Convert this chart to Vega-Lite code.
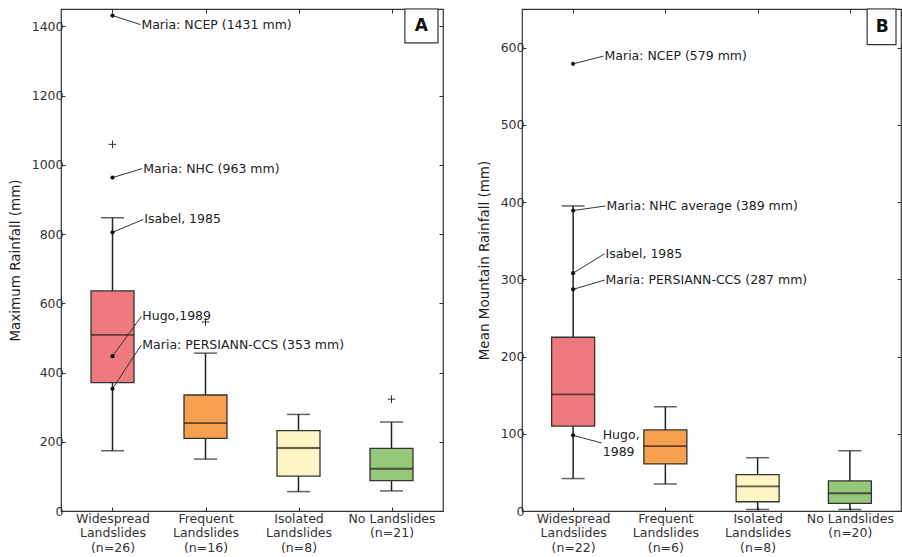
{
  "$schema": "https://vega.github.io/schema/vega-lite/v6.json",
  "padding": {"left": 7, "top": 7, "right": 0, "bottom": 0},
  "background": "white",
  "spacing": 31,
  "config": {
    "font": "DejaVu Sans",
    "view": {"stroke": "#333", "strokeWidth": 1.2},
    "axis": {"domain": false, "grid": false, "labelFont": "DejaVu Sans", "labelFontSize": 12.5, "labelColor": "#333", "titleFont": "DejaVu Sans", "titleFontSize": 13.5, "titleFontWeight": "normal", "titleColor": "#222", "tickColor": "#333", "tickSize": -4, "tickWidth": 1}
  },
  "datasets": {
    "boxA": [
      {"cat": "Widespread", "idx": 0.5, "lo": 174, "q1": 371, "med": 509, "q3": 636, "hi": 847},
      {"cat": "Frequent", "idx": 1.5, "lo": 150, "q1": 210, "med": 254, "q3": 335, "hi": 456},
      {"cat": "Isolated", "idx": 2.5, "lo": 56, "q1": 101, "med": 182, "q3": 232, "hi": 279},
      {"cat": "None", "idx": 3.5, "lo": 58, "q1": 88, "med": 122, "q3": 181, "hi": 257}
    ],
    "outA": [
      {"idx": 0.5, "value": 1059},
      {"idx": 1.5, "value": 546},
      {"idx": 3.5, "value": 323}
    ],
    "ptsA": [
      {"idx": 0.5, "value": 1431, "label": "Maria: NCEP (1431 mm)", "lx": 0.80, "ly": 1405, "ty": 1405},
      {"idx": 0.5, "value": 963, "label": "Maria: NHC (963 mm)", "lx": 0.82, "ly": 989, "ty": 989},
      {"idx": 0.5, "value": 805, "label": "Isabel, 1985", "lx": 0.83, "ly": 842, "ty": 842},
      {"idx": 0.5, "value": 447, "label": "Hugo,1989", "lx": 0.81, "ly": 562, "ty": 562},
      {"idx": 0.5, "value": 353, "label": "Maria: PERSIANN-CCS (353 mm)", "lx": 0.81, "ly": 480, "ty": 480}
    ],
    "boxB": [
      {"cat": "Widespread", "idx": 0.5, "lo": 42, "q1": 110, "med": 151, "q3": 225, "hi": 395},
      {"cat": "Frequent", "idx": 1.5, "lo": 35, "q1": 61, "med": 84, "q3": 105, "hi": 135},
      {"cat": "Isolated", "idx": 2.5, "lo": 2, "q1": 12, "med": 32, "q3": 47, "hi": 69},
      {"cat": "None", "idx": 3.5, "lo": 2, "q1": 10, "med": 23, "q3": 39, "hi": 78}
    ],
    "ptsB": [
      {"idx": 0.5, "value": 579, "label": "Maria: NCEP (579 mm)", "lx": 0.83, "ly": 589, "ty": 589},
      {"idx": 0.5, "value": 389, "label": "Maria: NHC average (389 mm)", "lx": 0.85, "ly": 395, "ty": 395},
      {"idx": 0.5, "value": 308, "label": "Isabel, 1985", "lx": 0.84, "ly": 333, "ty": 333},
      {"idx": 0.5, "value": 287, "label": "Maria: PERSIANN-CCS (287 mm)", "lx": 0.84, "ly": 299, "ty": 299},
      {"idx": 0.5, "value": 98, "label": "Hugo,|1989", "lx": 0.81, "ly": 88, "ty": 98}
    ]
  },
  "hconcat": [
    {
      "width": 382,
      "height": 502,
      "resolve": {"axis": {"x": "independent", "y": "independent"}},
      "layer": [
        {
          "data": {"name": "boxA"},
          "mark": {"type": "rule", "color": "#222", "strokeWidth": 1.5},
          "encoding": {
            "x": {"field": "idx", "type": "quantitative", "scale": {"domain": [0, 4], "nice": false, "zero": false},
              "axis": {"values": [0.5, 1.5, 2.5, 3.5], "title": null, "labelPadding": 5, "labelLineHeight": 14.7, "labelBaseline": "top",
                "labelExpr": "datum.value == 0.5 ? ['Widespread', 'Landslides', '(n=26)'] : datum.value == 1.5 ? ['Frequent', 'Landslides', '(n=16)'] : datum.value == 2.5 ? ['Isolated', 'Landslides', '(n=8)'] : ['No Landslides', '(n=21)']"}},
            "y": {"field": "lo", "type": "quantitative", "scale": {"domain": [0, 1450], "nice": false},
              "axis": {"values": [0, 200, 400, 600, 800, 1000, 1200, 1400], "format": "d", "title": "Maximum Rainfall (mm)", "titlePadding": 9, "labelPadding": 2}},
            "y2": {"field": "hi"}
          }
        },
        {
          "data": {"name": "boxA"},
          "mark": {"type": "tick", "orient": "horizontal", "color": "#222", "size": 23, "thickness": 1.5},
          "encoding": {
            "x": {"field": "idx", "type": "quantitative", "axis": null},
            "y": {"field": "lo", "type": "quantitative", "axis": null}
          }
        },
        {
          "data": {"name": "boxA"},
          "mark": {"type": "tick", "orient": "horizontal", "color": "#222", "size": 23, "thickness": 1.5},
          "encoding": {
            "x": {"field": "idx", "type": "quantitative", "axis": null},
            "y": {"field": "hi", "type": "quantitative", "axis": null}
          }
        },
        {
          "data": {"name": "boxA"},
          "mark": {"type": "bar", "width": 43, "stroke": "#333", "strokeWidth": 1.3, "opacity": 1},
          "encoding": {
            "x": {"field": "idx", "type": "quantitative", "axis": null},
            "y": {"field": "q1", "type": "quantitative", "axis": null},
            "y2": {"field": "q3"},
            "fill": {"field": "cat", "type": "nominal", "legend": null,
              "scale": {"domain": ["Widespread", "Frequent", "Isolated", "None"], "range": ["#ee7a7d", "#f7a14e", "#fdf6c4", "#95c878"]}}
          }
        },
        {
          "data": {"name": "boxA"},
          "mark": {"type": "tick", "orient": "horizontal", "color": "#2a1a1a", "size": 43, "thickness": 1.8},
          "encoding": {
            "x": {"field": "idx", "type": "quantitative", "axis": null},
            "y": {"field": "med", "type": "quantitative", "axis": null}
          }
        },
        {
          "data": {"name": "outA"},
          "mark": {"type": "point", "shape": "M-1,0L1,0M0,-1L0,1", "filled": false, "stroke": "#333", "strokeWidth": 1, "size": 60, "opacity": 1},
          "encoding": {
            "x": {"field": "idx", "type": "quantitative", "axis": {"orient": "top", "labels": false, "title": null, "values": [0.5, 1.5, 2.5, 3.5]}},
            "y": {"field": "value", "type": "quantitative", "axis": {"orient": "right", "labels": false, "title": null, "values": [0, 200, 400, 600, 800, 1000, 1200, 1400]}}
          }
        },
        {
          "data": {"name": "ptsA"},
          "mark": {"type": "rule", "color": "#333", "strokeWidth": 1},
          "encoding": {
            "x": {"field": "idx", "type": "quantitative", "axis": null},
            "y": {"field": "value", "type": "quantitative", "axis": null},
            "x2": {"field": "lx"},
            "y2": {"field": "ly"}
          }
        },
        {
          "data": {"name": "ptsA"},
          "mark": {"type": "circle", "color": "#111", "size": 18, "opacity": 1},
          "encoding": {
            "x": {"field": "idx", "type": "quantitative", "axis": null},
            "y": {"field": "value", "type": "quantitative", "axis": null}
          }
        },
        {
          "data": {"name": "ptsA"},
          "mark": {"type": "text", "align": "left", "baseline": "middle", "dx": 1, "fontSize": 12.5, "font": "DejaVu Sans", "color": "#222"},
          "encoding": {
            "x": {"field": "lx", "type": "quantitative", "axis": null},
            "y": {"field": "ty", "type": "quantitative", "axis": null},
            "text": {"field": "label"}
          }
        },
        {
          "data": {"values": [{}]},
          "mark": {"type": "rect", "fill": "white", "stroke": "#333", "strokeWidth": 1.2},
          "encoding": {
            "x": {"datum": 3.644, "type": "quantitative", "axis": null},
            "x2": {"datum": 4},
            "y": {"datum": 1450, "type": "quantitative", "axis": null},
            "y2": {"datum": 1352}
          }
        },
        {
          "data": {"values": [{}]},
          "mark": {"type": "text", "text": "A", "fontSize": 17, "fontWeight": "bold", "font": "DejaVu Sans", "color": "#111", "align": "center", "baseline": "middle"},
          "encoding": {
            "x": {"datum": 3.822, "type": "quantitative", "axis": null},
            "y": {"datum": 1401, "type": "quantitative", "axis": null}
          }
        }
      ]
    },
    {
      "width": 379,
      "height": 502,
      "resolve": {"axis": {"x": "independent", "y": "independent"}},
      "layer": [
        {
          "data": {"name": "boxB"},
          "mark": {"type": "rule", "color": "#222", "strokeWidth": 1.5},
          "encoding": {
            "x": {"field": "idx", "type": "quantitative", "scale": {"domain": [0, 4], "nice": false, "zero": false},
              "axis": {"values": [0.5, 1.5, 2.5, 3.5], "title": null, "labelPadding": 5, "labelLineHeight": 14.7, "labelBaseline": "top",
                "labelExpr": "datum.value == 0.5 ? ['Widespread', 'Landslides', '(n=22)'] : datum.value == 1.5 ? ['Frequent', 'Landslides', '(n=6)'] : datum.value == 2.5 ? ['Isolated', 'Landslides', '(n=8)'] : ['No Landslides', '(n=20)']"}},
            "y": {"field": "lo", "type": "quantitative", "scale": {"domain": [0, 650], "nice": false},
              "axis": {"values": [0, 100, 200, 300, 400, 500, 600], "format": "d", "title": "Mean Mountain Rainfall (mm)", "titlePadding": 9, "labelPadding": 2}},
            "y2": {"field": "hi"}
          }
        },
        {
          "data": {"name": "boxB"},
          "mark": {"type": "tick", "orient": "horizontal", "color": "#222", "size": 23, "thickness": 1.5},
          "encoding": {
            "x": {"field": "idx", "type": "quantitative", "axis": null},
            "y": {"field": "lo", "type": "quantitative", "axis": null}
          }
        },
        {
          "data": {"name": "boxB"},
          "mark": {"type": "tick", "orient": "horizontal", "color": "#222", "size": 23, "thickness": 1.5},
          "encoding": {
            "x": {"field": "idx", "type": "quantitative", "axis": null},
            "y": {"field": "hi", "type": "quantitative", "axis": null}
          }
        },
        {
          "data": {"name": "boxB"},
          "mark": {"type": "bar", "width": 43, "stroke": "#333", "strokeWidth": 1.3, "opacity": 1},
          "encoding": {
            "x": {"field": "idx", "type": "quantitative", "axis": null},
            "y": {"field": "q1", "type": "quantitative", "axis": null},
            "y2": {"field": "q3"},
            "fill": {"field": "cat", "type": "nominal", "legend": null,
              "scale": {"domain": ["Widespread", "Frequent", "Isolated", "None"], "range": ["#ee7a7d", "#f7a14e", "#fdf6c4", "#95c878"]}}
          }
        },
        {
          "data": {"name": "boxB"},
          "mark": {"type": "tick", "orient": "horizontal", "color": "#2a1a1a", "size": 43, "thickness": 1.8},
          "encoding": {
            "x": {"field": "idx", "type": "quantitative", "axis": null},
            "y": {"field": "med", "type": "quantitative", "axis": null}
          }
        },
        {
          "data": {"name": "ptsB"},
          "mark": {"type": "rule", "color": "#333", "strokeWidth": 1},
          "encoding": {
            "x": {"field": "idx", "type": "quantitative", "axis": {"orient": "top", "labels": false, "title": null, "values": [0.5, 1.5, 2.5, 3.5]}},
            "y": {"field": "value", "type": "quantitative", "axis": {"orient": "right", "labels": false, "title": null, "values": [0, 100, 200, 300, 400, 500, 600]}},
            "x2": {"field": "lx"},
            "y2": {"field": "ly"}
          }
        },
        {
          "data": {"name": "ptsB"},
          "mark": {"type": "circle", "color": "#111", "size": 18, "opacity": 1},
          "encoding": {
            "x": {"field": "idx", "type": "quantitative", "axis": null},
            "y": {"field": "value", "type": "quantitative", "axis": null}
          }
        },
        {
          "data": {"name": "ptsB"},
          "mark": {"type": "text", "align": "left", "baseline": "middle", "dx": 1, "fontSize": 12.5, "font": "DejaVu Sans", "color": "#222", "lineBreak": "|", "lineHeight": 16.5},
          "encoding": {
            "x": {"field": "lx", "type": "quantitative", "axis": null},
            "y": {"field": "ty", "type": "quantitative", "axis": null},
            "text": {"field": "label"}
          }
        },
        {
          "data": {"values": [{}]},
          "mark": {"type": "rect", "fill": "white", "stroke": "#333", "strokeWidth": 1.2},
          "encoding": {
            "x": {"datum": 3.687, "type": "quantitative", "axis": null},
            "x2": {"datum": 4},
            "y": {"datum": 650, "type": "quantitative", "axis": null},
            "y2": {"datum": 604}
          }
        },
        {
          "data": {"values": [{}]},
          "mark": {"type": "text", "text": "B", "fontSize": 17, "fontWeight": "bold", "font": "DejaVu Sans", "color": "#111", "align": "center", "baseline": "middle"},
          "encoding": {
            "x": {"datum": 3.85, "type": "quantitative", "axis": null},
            "y": {"datum": 627, "type": "quantitative", "axis": null}
          }
        }
      ]
    }
  ]
}
